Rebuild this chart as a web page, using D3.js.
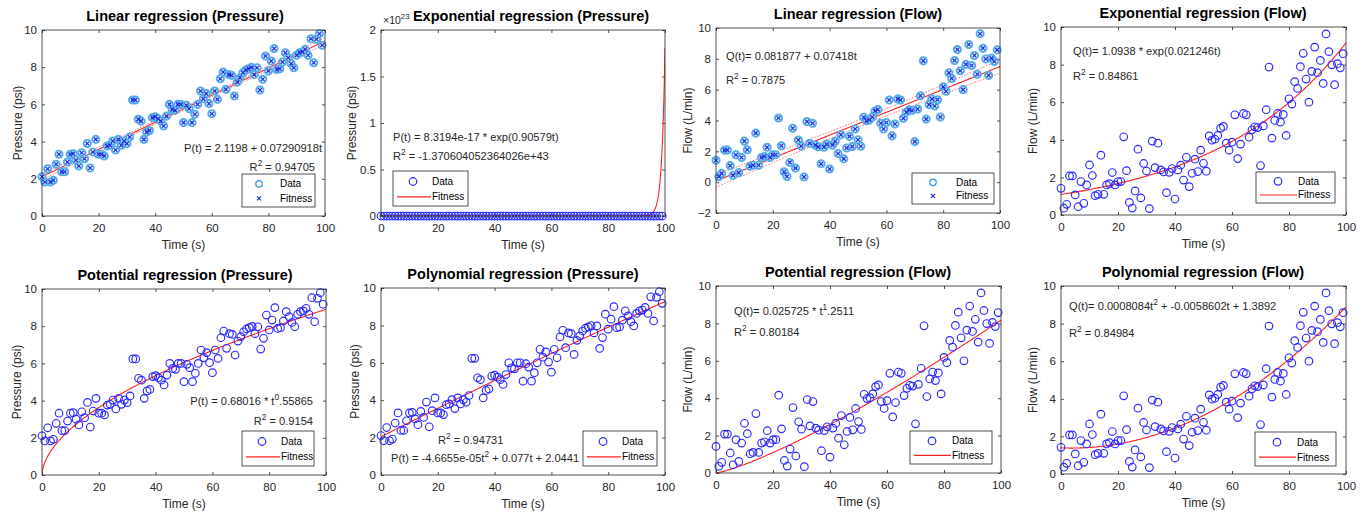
<!DOCTYPE html>
<html>
<head>
<meta charset="utf-8">
<script src="https://cdn.jsdelivr.net/npm/d3@7/dist/d3.min.js"></script>
<style>
body { margin: 0; background: #fff; }
svg { font-family: "Liberation Sans", Arial, sans-serif; }
</style>
</head>
<body>
<div id="chart"></div>
<script>
// sample times (s)
var timeS = [0,1,2,3,4,5,6,7,8,9,10,11,12,13,14,15,16,17,18,19,20,21,22,23,24,25,26,27,28,29,
  30,31,32,33,34,35,36,37,38,39,40,41,42,43,44,45,46,47,48,49,50,51,52,53,54,55,56,57,58,59,
  60,61,62,63,64,65,66,67,68,69,70,71,72,73,74,75,76,77,78,79,80,81,82,83,84,85,86,87,88,89,
  90,91,92,93,94,95,96,97,98,99];

// measured pressure (psi)
var pressure = [2.11,1.83,2.54,1.83,1.92,2.78,3.32,2.38,2.38,2.9,
  3.32,3.35,3.0,2.69,3.4,3.08,3.9,2.58,3.44,4.12,
  3.32,3.32,3.23,3.76,3.8,4.03,3.55,4.12,3.8,4.03,
  3.89,4.25,6.24,6.24,5.2,5.1,4.12,4.52,4.6,5.29,
  5.34,5.23,5.1,4.84,5.37,6.0,5.73,5.68,6.0,6.0,
  5.02,5.95,5.77,5.02,5.47,6.0,6.72,6.3,6.58,6.04,
  5.5,6.72,6.27,7.38,7.74,6.81,7.6,7.56,6.45,7.2,
  7.44,7.7,7.85,7.92,7.99,7.6,7.97,6.77,7.35,8.6,
  7.8,8.33,9.0,7.88,7.92,8.28,8.78,8.51,8.2,7.97,
  8.64,8.78,8.82,8.96,8.64,9.53,8.24,9.5,9.8,9.18];

// measured flow (L/min)
var flow = [1.42,0.36,0.57,2.08,2.08,1.07,0.44,1.78,0.62,1.6,
  2.66,2.1,1.03,1.1,3.18,1.1,1.6,1.67,2.26,1.6,
  1.78,1.78,4.16,2.36,0.67,0.37,1.28,3.5,0.91,2.74,
  2.34,0.34,3.93,2.52,3.82,2.4,2.29,1.19,2.27,2.47,
  0.85,2.4,2.65,1.86,3.07,1.51,2.22,2.97,2.31,3.45,
  2.75,2.33,4.21,3.98,4.03,4.23,4.62,4.71,3.82,3.45,
  3.87,5.33,3.0,3.77,5.4,5.33,4.14,4.53,4.69,4.65,
  2.63,4.74,5.6,7.87,4.09,5.03,5.4,4.94,5.35,4.23,
  6.18,5.9,7.09,6.73,7.89,8.6,7.23,6.0,7.64,8.93,
  7.57,8.22,7.0,9.63,8.69,7.99,6.93,8.05,7.83,8.58];

var xTicks = [0, 20, 40, 60, 80, 100];
var yTicks = [0, 2, 4, 6, 8, 10];
var yTicksFlowLin = [-2, 0, 2, 4, 6, 8, 10];
var yTicksExp = [0, 0.5e23, 1e23, 1.5e23, 2e23];

// fit coefficients shown on the chart
var pLinear = [2.1198, 0.07290918];
var pExp = [8.3194e-17, 0.90579];
var pPow = [0.68016, 0.55865];
var pPoly = [-4.6655e-05, 0.077, 2.0441];
var qLinear = [0.081877, 0.07418];
var qExp = [1.0938, 0.021246];
var qPow = [0.025725, 1.2511];
var qPoly = [0.0008084, -0.0058602, 1.3892];

// half width of the dotted bounds at t = 0 (linear fits)
var pLinBand = 0.17;
var qLinBand = 0.42;

var fitFns = {
  linear: function(c) { return function(t) { return c[0] + c[1] * t; }; },
  exp: function(c) { return function(t) { return c[0] * Math.exp(c[1] * t); }; },
  pow: function(c) { return function(t) { return c[0] * Math.pow(t, c[1]); }; },
  poly: function(c) { return function(t) { return c[0] * t * t + c[1] * t + c[2]; }; }
};

var W = 1365, H = 517;
var svg = d3.select("#chart").append("svg").attr("width", W).attr("height", H);
var axisColor = "#262626";

var panels = [
  { title: "Linear regression (Pressure)", box: [42, 30, 325, 216], titleX: 185, ylab: "Pressure (psi)", ylabX: 18,
    data: pressure, yDom: [0, 10], yt: yTicks, fit: fitFns.linear(pLinear), band: pLinBand, mode: "linear",
    legend: [242, 174, 73, 33, 17, 38],
    notes: [{ x: 322, y: 152, a: "end", parts: [["P(t)  = 2.1198 + 0.07290918t"]] },
            { x: 315, y: 171, a: "end", parts: [["R"], ["2", 1], [" = 0.94705"]] }] },
  { title: "Exponential regression (Pressure)", box: [381, 30, 665, 216], titleX: 531, ylab: "Pressure (psi)", ylabX: 352,
    data: pressure, yDom: [0, 2e23], yt: yTicksExp, fit: fitFns.exp(pExp), mode: "circle", step: 0.05,
    tickFmt: function(d) { return d3.format("~g")(d / 1e23); },
    legend: [393, 171, 75, 35, 20, 39],
    notes: [{ x: 393, y: 141, a: "start", parts: [["P(t)  = 8.3194e-17 * exp(0.90579t)"]] },
            { x: 393, y: 160, a: "start", parts: [["R"], ["2", 1], [" = -1.370604052364026e+43"]] }] },
  { title: "Linear regression (Flow)", box: [716, 28, 1000, 213], titleX: 858, ylab: "Flow (L/min)", ylabX: 688,
    data: flow, yDom: [-2, 10], yt: yTicksFlowLin, fit: fitFns.linear(qLinear), band: qLinBand, mode: "linear",
    legend: [912, 173, 82, 31, 21, 44],
    notes: [{ x: 726, y: 60, a: "start", parts: [["Q(t)= 0.081877 + 0.07418t"]] },
            { x: 726, y: 84, a: "start", parts: [["R"], ["2", 1], [" = 0.7875"]] }] },
  { title: "Exponential regression (Flow)", box: [1061, 27, 1346, 215], titleX: 1203, ylab: "Flow (L/min)", ylabX: 1033,
    data: flow, yDom: [0, 10], yt: yTicks, fit: fitFns.exp(qExp), mode: "circle",
    legend: [1256, 172, 79, 31, 22, 42],
    notes: [{ x: 1073, y: 55, a: "start", parts: [["Q(t)= 1.0938 * exp(0.021246t)"]] },
            { x: 1073, y: 80, a: "start", parts: [["R"], ["2", 1], [" = 0.84861"]] }] },
  { title: "Potential regression (Pressure)", box: [42, 289, 326, 475], titleX: 185, ylab: "Pressure (psi)", ylabX: 17,
    data: pressure, yDom: [0, 10], yt: yTicks, fit: fitFns.pow(pPow), mode: "circle", step: 0.1,
    legend: [242, 431, 72, 35, 20, 39],
    notes: [{ x: 313, y: 405, a: "end", parts: [["P(t) = 0.68016 * t"], ["0", 1], [".55865"]] },
            { x: 313, y: 425, a: "end", parts: [["R"], ["2", 1], [" = 0.9154"]] }] },
  { title: "Polynomial regression (Pressure)", box: [381, 288, 665, 475], titleX: 523, ylab: "Pressure (psi)", ylabX: 355,
    data: pressure, yDom: [0, 10], yt: yTicks, fit: fitFns.poly(pPoly), mode: "circle",
    legend: [583, 431, 74, 35, 20, 39],
    notes: [{ x: 438, y: 444, a: "start", parts: [["R"], ["2", 1], [" = 0.94731"]] },
            { x: 391, y: 462, a: "start", parts: [["P(t) = -4.6655e-05t"], ["2", 1], [" + 0.077t + 2.0441"]] }] },
  { title: "Potential regression (Flow)", box: [716, 286, 1001, 473], titleX: 858, ylab: "Flow (L/min)", ylabX: 688,
    data: flow, yDom: [0, 10], yt: yTicks, fit: fitFns.pow(qPow), mode: "circle",
    legend: [910, 431, 82, 33, 22, 42],
    notes: [{ x: 734, y: 315, a: "start", parts: [["Q(t)= 0.025725 * t"], ["1", 1], [".2511"]] },
            { x: 734, y: 336, a: "start", parts: [["R"], ["2", 1], [" = 0.80184"]] }] },
  { title: "Polynomial regression (Flow)", box: [1061, 286, 1346, 474], titleX: 1203, ylab: "Flow (L/min)", ylabX: 1033,
    data: flow, yDom: [0, 10], yt: yTicks, fit: fitFns.poly(qPoly), mode: "circle",
    legend: [1255, 432, 81, 34, 22, 42],
    notes: [{ x: 1069, y: 310, a: "start", parts: [["Q(t)= 0.0008084t"], ["2", 1], [" + -0.0058602t + 1.3892"]] },
            { x: 1069, y: 337, a: "start", parts: [["R"], ["2", 1], [" = 0.84984"]] }] }
];

function richText(g, x, y, anchor, size, parts) {
  var t = g.append("text").attr("x", x).attr("y", y).attr("text-anchor", anchor)
    .attr("font-size", size).attr("fill", axisColor);
  var up = false;
  parts.forEach(function(p) {
    var s = t.append("tspan").text(p[0]);
    if (p[1] && !up) { s.attr("dy", -5).attr("font-size", size * 0.75); up = true; }
    else if (!p[1] && up) { s.attr("dy", 5); up = false; }
  });
  return t;
}

function crossPath(s) {
  return "M" + (-s) + "," + (-s) + "L" + s + "," + s + "M" + (-s) + "," + s + "L" + s + "," + (-s);
}

panels.forEach(function(p, idx) {
  var x0 = p.box[0], y0 = p.box[1], x1 = p.box[2], y1 = p.box[3];
  var x = d3.scaleLinear().domain([0, 100]).range([x0, x1]);
  var y = d3.scaleLinear().domain(p.yDom).range([y1, y0]);
  var g = svg.append("g");

  g.append("clipPath").attr("id", "clip" + idx)
    .append("rect").attr("x", x0).attr("y", y0).attr("width", x1 - x0).attr("height", y1 - y0);

  // axes
  var fmt = p.tickFmt || d3.format("~g");
  var ax = g.append("g").attr("transform", "translate(0," + y1 + ")")
    .call(d3.axisBottom(x).tickValues(xTicks).tickSizeInner(-3).tickSizeOuter(0).tickPadding(8));
  var ay = g.append("g").attr("transform", "translate(" + x0 + ",0)")
    .call(d3.axisLeft(y).tickValues(p.yt).tickFormat(fmt).tickSizeInner(-3).tickSizeOuter(0).tickPadding(5));
  var at = g.append("g").attr("transform", "translate(0," + y0 + ")")
    .call(d3.axisTop(x).tickValues(xTicks).tickFormat("").tickSizeInner(-3).tickSizeOuter(0));
  var ar = g.append("g").attr("transform", "translate(" + x1 + ",0)")
    .call(d3.axisRight(y).tickValues(p.yt).tickFormat("").tickSizeInner(-3).tickSizeOuter(0));
  [ax, ay, at, ar].forEach(function(a) {
    a.select(".domain").remove();
    a.selectAll("line").attr("stroke", axisColor).attr("stroke-width", 0.8);
    a.selectAll("text").attr("fill", axisColor).attr("font-size", 11.5)
      .attr("font-family", "'Liberation Sans', Arial, sans-serif");
  });

  // fit line (clipped), markers are not clipped
  var ts = d3.range(0, 100.0001, p.step || 0.5);
  var line = d3.line().x(function(t) { return x(t); }).y(function(t) { return y(p.fit(t)); });
  var lines = g.append("g").attr("clip-path", "url(#clip" + idx + ")");
  var marks = g.append("g");

  if (p.mode === "linear") {
    // dotted confidence bounds
    var norm = Math.sqrt(0.01 + 49.5 * 49.5 / 83325);
    var half = function(t) { return p.band * Math.sqrt(0.01 + (t - 49.5) * (t - 49.5) / 83325) / norm; };
    [1, -1].forEach(function(sg) {
      lines.append("path")
        .attr("d", d3.line().x(function(t) { return x(t); }).y(function(t) { return y(p.fit(t) + sg * half(t)); })(ts))
        .attr("fill", "none").attr("stroke", "#ff6a6a").attr("stroke-width", 1).attr("stroke-dasharray", "1.5,1.5");
    });
    lines.append("path").attr("d", line(ts)).attr("fill", "none").attr("stroke", "#ff2020").attr("stroke-width", 1.1);
    marks.selectAll(".ring").data(p.data).enter().append("circle")
      .attr("cx", function(d, i) { return x(timeS[i]); })
      .attr("cy", function(d) { return y(d); })
      .attr("r", 3.6).attr("fill", "#d6ebfa").attr("fill-opacity", 0.6)
      .attr("stroke", "#54abe8").attr("stroke-width", 1.9);
    marks.selectAll(".cross").data(p.data).enter().append("path")
      .attr("transform", function(d, i) { return "translate(" + x(timeS[i]) + "," + y(d) + ")"; })
      .attr("d", crossPath(1.9)).attr("stroke", "#1a28e8").attr("stroke-width", 1.2);
  } else {
    marks.selectAll(".pt").data(p.data).enter().append("circle")
      .attr("cx", function(d, i) { return x(timeS[i]); })
      .attr("cy", function(d) { return y(d); })
      .attr("r", 3.8).attr("fill", "none").attr("stroke", "#2a2aff").attr("stroke-width", 1.15);
    lines.append("path").attr("d", line(ts)).attr("fill", "none").attr("stroke", "#ff2020").attr("stroke-width", 1.1);
  }

  g.append("rect").attr("x", x0).attr("y", y0).attr("width", x1 - x0).attr("height", y1 - y0)
    .attr("fill", "none").attr("stroke", axisColor).attr("stroke-width", 0.8);

  // title and labels
  g.append("text").attr("x", p.titleX).attr("y", y0 - 9).attr("text-anchor", "middle")
    .attr("font-size", 14.5).attr("font-weight", "bold").attr("fill", "#000").text(p.title);
  g.append("text").attr("x", (x0 + x1) / 2).attr("y", y1 + 33).attr("text-anchor", "middle")
    .attr("font-size", 12).attr("fill", axisColor).text("Time (s)");
  g.append("text").attr("transform", "translate(" + p.ylabX + "," + ((y0 + y1) / 2) + ") rotate(-90)")
    .attr("dy", "0.35em").attr("text-anchor", "middle")
    .attr("font-size", 12).attr("fill", axisColor).text(p.ylab);

  if (p.tickFmt) {
    richText(g, x0 + 2, y0 - 6, "start", 10.5, [["\u00d710"], ["23", 1]]);
  }

  // annotations
  p.notes.forEach(function(n) { richText(g, n.x, n.y, n.a, 11.1, n.parts); });

  // legend
  var L = p.legend;
  var lg = g.append("g").attr("transform", "translate(" + L[0] + "," + L[1] + ")");
  lg.append("rect").attr("width", L[2]).attr("height", L[3]).attr("fill", "#fff")
    .attr("stroke", axisColor).attr("stroke-width", 0.8);
  var r1 = L[3] * 0.3, r2 = L[3] * 0.74;
  if (p.mode === "linear") {
    lg.append("circle").attr("cx", L[4]).attr("cy", r1).attr("r", 3.2)
      .attr("fill", "none").attr("stroke", "#2e9be6").attr("stroke-width", 1.3);
    lg.append("path").attr("transform", "translate(" + L[4] + "," + r2 + ")")
      .attr("d", crossPath(2)).attr("stroke", "#1a28e8").attr("stroke-width", 1.1);
  } else {
    lg.append("circle").attr("cx", L[4]).attr("cy", r1).attr("r", 3.8)
      .attr("fill", "none").attr("stroke", "#2a2aff").attr("stroke-width", 1.2);
    lg.append("line").attr("x1", 4).attr("x2", L[5] - 1).attr("y1", r2).attr("y2", r2)
      .attr("stroke", "#ff2020").attr("stroke-width", 1.1);
  }
  lg.append("text").attr("x", L[5]).attr("y", r1).attr("dy", "0.35em")
    .attr("font-size", 10).attr("fill", "#000").text("Data");
  lg.append("text").attr("x", L[5]).attr("y", r2).attr("dy", "0.35em")
    .attr("font-size", 10).attr("fill", "#000").text("Fitness");
});
</script>
</body>
</html>
